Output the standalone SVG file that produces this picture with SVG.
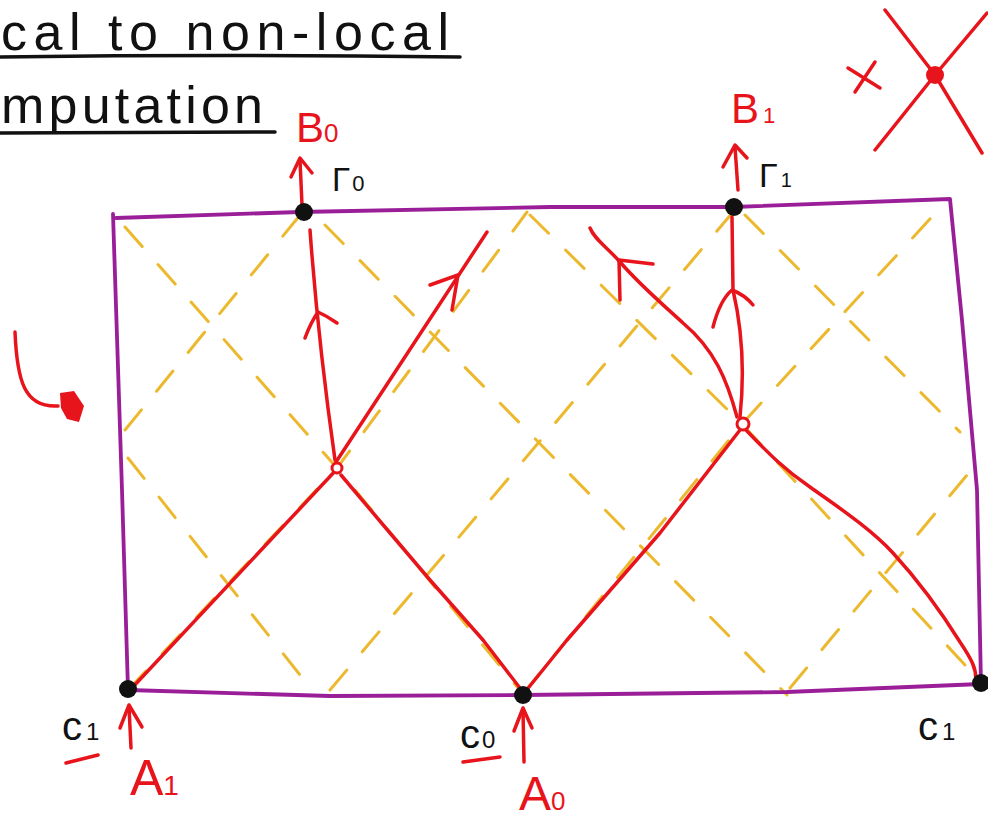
<svg xmlns="http://www.w3.org/2000/svg" width="988" height="823" viewBox="0 0 988 823">
<style>
.lat{fill:none;stroke:#ecb92e;stroke-width:3;stroke-dasharray:26 24;stroke-linecap:round}
.box{fill:none;stroke:#9a1e98;stroke-width:3.8;stroke-linejoin:round;stroke-linecap:round}
.red{fill:none;stroke:#e8141c;stroke-width:3.5;stroke-linecap:round;stroke-linejoin:round}
.ink{fill:none;stroke:#111;stroke-width:3.5;stroke-linecap:round}
.dot{fill:#111}
.t{font-family:"Liberation Sans",Arial,sans-serif}
.tb{fill:#111}
.tr{fill:#e8141c}
</style>
<rect width="988" height="823" fill="#fff"/>

<g id="title">
<text class="t tb" x="1" y="50" font-size="52" textLength="448" lengthAdjust="spacing">cal to non-local</text>
<path class="ink" d="M0,57 Q230,54 460,57"/>
<text class="t tb" x="1" y="123" font-size="52" textLength="262" lengthAdjust="spacing">mputation</text>
<path class="ink" d="M0,133 L275,132"/>
</g>

<g id="lattice">
<path class="lat" d="M125,430 L300,215"/>
<path class="lat" d="M128,690 L337,468 L527,212"/>
<path class="lat" d="M330,690 L733,212"/>
<path class="lat" d="M523,694 L742,424 L940,208"/>
<path class="lat" d="M790,688 L967,475"/>
<path class="lat" d="M128,458 L300,675"/>
<path class="lat" d="M125,227 L337,468 L523,694"/>
<path class="lat" d="M325,225 L787,695"/>
<path class="lat" d="M530,215 L742,424 L965,665"/>
<path class="lat" d="M745,215 L960,432"/>
</g>

<g id="region">
<path class="box" d="M116,218 L300,212 L550,207 L733,207 L950,199 L962,320 L977,490 L981,684 L787,692 L523,695 L330,696 L128,690 L122,490 L113,214"/>
</g>

<g id="connectors">
<path class="red" d="M131,689 L337,469"/>
<path class="red" d="M341,475 L390,533 L430,580 L483,640 L523,692"/>
<path class="red" d="M525,692 L567,640 L660,533 L740,430"/>
<path class="red" d="M746,430 C770,455 785,470 810,487 C835,505 870,528 893,553 C915,577 940,610 960,642 C972,660 976,668 976,680"/>
<path class="red" d="M335,460 Q318,340 310,230"/>
<path class="red" d="M305,338 Q311,322 318,312 Q327,316 337,323"/>
<path class="red" d="M336,462 L487,232"/>
<path class="red" d="M430,285 L458,275 L452,310"/>
<path class="red" d="M740,417 Q747,350 733,290 L732,217"/>
<path class="red" d="M713,327 Q720,300 732,290 Q745,295 753,305"/>
<path class="red" d="M737,417 C727,380 715,350 683,323 C660,302 640,285 620,262 C605,245 595,240 590,228"/>
<path class="red" d="M653,264 L619,260 L620,300"/>
<path class="red" d="M302,205 L300,160"/>
<path class="red" d="M291,177 L300,158 L312,173"/>
<path class="red" d="M738,190 L735,147"/>
<path class="red" d="M723,167 L735,145 L747,158"/>
<path class="red" d="M131,748 L129,707"/>
<path class="red" d="M120,728 L129,705 L142,727"/>
<path class="red" d="M524,762 L523,710"/>
<path class="red" d="M514,731 L523,708 L532,728"/>
</g>

<g id="vertex-v0"><circle cx="337" cy="468" r="5" fill="#fff" stroke="#e8141c" stroke-width="3"/></g>
<g id="vertex-v1"><circle cx="743" cy="424" r="6" fill="#fff" stroke="#e8141c" stroke-width="3"/></g>

<g id="node-gamma0">
<circle class="dot" cx="304" cy="212" r="9"/>
<text class="t tb" x="332" y="191" font-size="33">Γ<tspan font-size="22" dx="2">0</tspan></text>
<text class="t tr" x="296" y="142" font-size="42">B<tspan font-size="26">0</tspan></text>
</g>

<g id="node-gamma1">
<circle class="dot" cx="734" cy="207" r="9"/>
<text class="t tb" x="759" y="187" font-size="34">Γ<tspan font-size="20" dx="3">1</tspan></text>
<text class="t tr" x="731" y="123" font-size="42">B<tspan font-size="22" dx="4">1</tspan></text>
</g>

<g id="node-c1-left">
<circle class="dot" cx="128" cy="689" r="9"/>
<text class="t tb" x="62" y="740" font-size="40">c<tspan font-size="24" dx="4">1</tspan></text>
<path class="red" d="M66,763 L98,755"/>
<text class="t tr" x="130" y="795" font-size="50">A<tspan font-size="28">1</tspan></text>
</g>

<g id="node-c0">
<circle class="dot" cx="523" cy="695" r="9"/>
<text class="t tb" x="460" y="748" font-size="40">c<tspan font-size="24" dx="2">0</tspan></text>
<path class="red" d="M463,762 L500,757"/>
<text class="t tr" x="519" y="810" font-size="48">A<tspan font-size="26">0</tspan></text>
</g>

<g id="node-c1-right">
<circle class="dot" cx="981" cy="683" r="9"/>
<text class="t tb" x="918" y="740" font-size="40">c<tspan font-size="24" dx="4">1</tspan></text>
</g>

<g id="side-arrow">
<path class="red" d="M15,332 C17,380 24,408 58,406"/>
<path d="M60,393 L74,391 L84,406 L79,422 L67,419 L61,408 Z" fill="#e8141c"/>
</g>

<g id="legend-vertex">
<path class="red" d="M848,68 L880,88 M875,62 L855,92"/>
<path class="red" d="M885,10 L935,75 L982,153 M987,13 L935,75 L875,150"/>
<circle cx="935" cy="75" r="9" fill="#e8141c"/>
</g>
</svg>
